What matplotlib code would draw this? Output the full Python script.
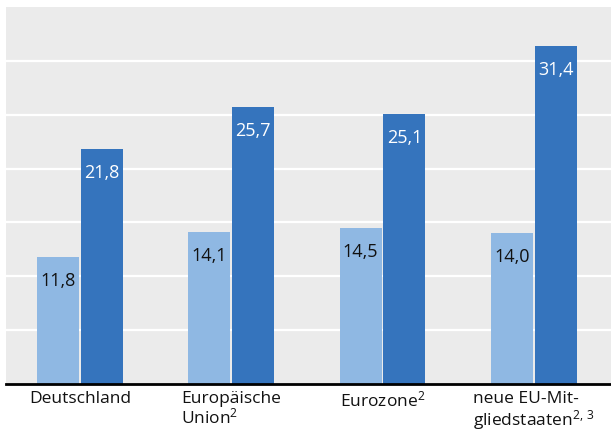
import numpy as np
import matplotlib.pyplot as plt

plt.rcParams['font.family'] = ['Open Sans', 'DejaVu Sans']
plt.rcParams['mathtext.fontset'] = 'custom'
plt.rcParams['mathtext.rm'] = 'Open Sans'
plt.rcParams['mathtext.it'] = 'Open Sans'

categories = ["Deutschland", "Europäische\nUnion$^{2}$", "Eurozone$^{2}$",
              "neue EU-Mit-\ngliedstaaten$^{2,\\,3}$"]
light_vals = [11.8, 14.1, 14.5, 14.0]
dark_vals = [21.8, 25.7, 25.1, 31.4]

light_col = "#8fb8e3"
dark_col = "#3574bd"

fig = plt.figure(figsize=(6.11, 4.32), dpi=100)
ax = fig.add_axes([6 / 611, 48 / 432, 605 / 611, 377 / 432])
ax.set_facecolor("#ebebeb")

x = np.arange(len(categories))
w = 0.278
off = 0.145
b1 = ax.bar(x - off, light_vals, w, color=light_col, zorder=3)
b2 = ax.bar(x + off, dark_vals, w, color=dark_col, zorder=3)

def fmt(v):
    return ("%.1f" % v).replace(".", ",")

for rect, v in zip(b1, light_vals):
    ax.annotate(fmt(v), (rect.get_x() + rect.get_width() / 2, v),
                xytext=(0, -24), textcoords="offset pixels",
                ha="center", va="center", fontsize=13, color="#111111", zorder=4)
for rect, v in zip(b2, dark_vals):
    ax.annotate(fmt(v), (rect.get_x() + rect.get_width() / 2, v),
                xytext=(0, -24), textcoords="offset pixels",
                ha="center", va="center", fontsize=13, color="white", zorder=4)

ax.set_ylim(0, 35)
ax.set_xlim(-0.489, 3.511)
ax.set_yticks(np.arange(5, 35, 5))
ax.yaxis.grid(True, color="white", linewidth=1.6, zorder=1)
ax.set_axisbelow(True)
ax.tick_params(axis="y", left=False, labelleft=False)
ax.tick_params(axis="x", length=0, pad=5)
ax.set_xticks(x)
ax.set_xticklabels(categories, fontsize=12.5, color="#111111",
                   va="top", linespacing=1.05)
for lab in ax.get_xticklabels():
    lab.set_multialignment("left")

for s in ["top", "left", "right"]:
    ax.spines[s].set_visible(False)
ax.spines["bottom"].set_linewidth(2)
ax.spines["bottom"].set_color("black")
ax.spines["bottom"].set_zorder(5)

fig.savefig("out.png", dpi=100)
